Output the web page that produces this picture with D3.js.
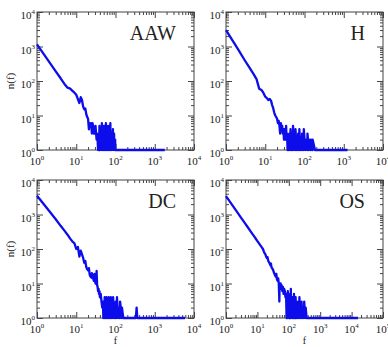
<!DOCTYPE html>
<html>
<head>
<meta charset="utf-8">
<script src="https://cdn.jsdelivr.net/npm/d3@7"></script>
<style>
  body { margin: 0; background: #fff; }
  svg { display: block; }
  text { font-family: "Liberation Serif", "DejaVu Serif", serif; fill: #222; }
</style>
</head>
<body>
<div id="chart"></div>
<script>
// panel titles and x-axis upper limits (decades)
const titles = ["AAW", "H", "DC", "OS"];
const xMaxExp = [4, 4, 4, 5];
const yMaxExp = 4;

// AAW
const aawF = [1,2,3,4,5,6,7,8,9,10,11,12,13,14,15,16,17,18,19,20,21,22,23,24,25,26,27,28,29,30,31,32,33,34,35,36,37,38,39,40,42,43,45,46,48,49,51,52,54,55,57,58,61,62,65,66,69,70,74,75,79,80,86,87,92,93,98,99,1800];
const aawN = [1150,370,190,120,82,64,60,52,46,40,30,23,34,28,18,15,16,11,9,8,4,6,5,6,3,6,5,3,4,3,5,3,2,3,2,1,3,1,5,1,4,1,6,1,2,1,5,1,3,1,6,1,2,1,5,1,3,1,6,1,2,1,4,1,3,1,2,1,1];

// H
const hF = [1,2,3,4,5,6,7,8,9,10,11,12,13,14,15,16,17,18,19,20,21,22,23,24,25,26,27,28,29,30,31,32,33,34,35,36,37,38,39,40,41,43,44,46,47,50,51,54,55,58,59,63,64,68,69,73,74,79,80,86,87,95,96,105,106,118,119,130,131,145,146,160,161,185,1250];
const hN = [3000,850,400,240,160,113,60,55,45,35,32,28,30,27,20,16,12,10,9,8,6,7,5,3,6,4,5,3,4,2,4,3,2,5,2,3,1,2,1,1,3,1,4,1,2,1,5,1,3,1,4,1,2,1,3,1,4,1,2,1,3,1,4,1,2,1,3,1,2,1,2,1,2,1,1];

// DC
const dcF = [1,2,3,4,5,6,7,8,9,10,11,12,13,14,15,16,17,18,19,20,21,22,23,24,25,26,27,28,29,30,31,32,33,34,35,36,37,38,39,40,42,44,46,48,49,50,52,53,55,56,58,59,62,63,66,67,70,71,75,76,80,81,86,87,92,93,100,101,108,109,118,119,130,131,145,146,158,330,345,360,5900];
const dcN = [3500,1300,730,470,340,260,200,165,145,100,115,60,90,70,55,40,45,30,26,24,28,18,16,15,20,14,17,12,19,13,10,12,23,9,8,6,7,5,6,4,5,3,2,3,1,3,1,4,1,2,1,4,1,3,1,4,1,2,1,4,1,3,1,4,1,2,1,3,1,4,1,2,1,3,1,2,1,1,2,1,1];

// OS
const osF = [1,2,3,4,5,6,7,8,9,10,12,14,15,16,17,18,19,20,21,22,24,26,27,28,30,32,34,36,38,40,42,44,46,48,50,51,53,55,57,59,62,65,68,71,75,78,82,85,88,90,93,95,98,100,104,106,110,112,116,118,123,125,130,133,138,141,146,150,155,160,165,170,176,182,188,195,202,210,218,226,235,245,255,265,280,295,310,330,345,370,16000];
const osN = [3400,1380,815,560,420,330,270,228,195,170,134,110,100,85,75,70,60,55,58,46,40,34,38,30,27,24,20,18,16,19,13,12,14,10,3,9,8,10,7,9,6,8,5,7,6,4,5,1,4,1,6,2,5,1,3,1,4,1,7,1,3,2,4,1,3,1,5,1,2,1,4,1,3,1,2,1,3,1,4,1,2,1,3,1,2,1,3,1,2,1,1];

const seriesF = [aawF, hF, dcF, osF];
const seriesN = [aawN, hN, dcN, osN];

const width = 388, height = 347;
const colX = [37, 226], rowY = [12, 180];
const pw = 157, ph = 138;
const axisColor = "#444";
const lineColor = "#0d0deb";

const svg = d3.select("#chart").append("svg")
  .attr("width", width)
  .attr("height", height);

function minorTicks(maxExp) {
  const out = [];
  for (let e = 0; e < maxExp; e++)
    for (let k = 2; k <= 9; k++) out.push(k * Math.pow(10, e));
  return out;
}

function drawTicks(g, axisFn, values, size, transform) {
  g.append("g")
    .attr("transform", transform)
    .call(axisFn.tickValues(values).tickSize(-size).tickSizeOuter(0).tickFormat(""))
    .call(a => a.select(".domain").remove())
    .call(a => a.selectAll("line").attr("stroke", axisColor).attr("stroke-width", 1));
}

function powLabel(sel, d) {
  sel.append("tspan").text("10");
  sel.append("tspan").attr("dy", -5).attr("font-size", 7).text(Math.round(Math.log10(d)));
}

titles.forEach((title, i) => {
  const col = i % 2, row = Math.floor(i / 2);
  const g = svg.append("g").attr("transform", `translate(${colX[col]},${rowY[row]})`);

  const x = d3.scaleLog().domain([1, Math.pow(10, xMaxExp[i])]).range([0, pw]);
  const y = d3.scaleLog().domain([1, Math.pow(10, yMaxExp)]).range([ph, 0]);

  const xMajor = d3.range(0, xMaxExp[i] + 1).map(e => Math.pow(10, e));
  const yMajor = d3.range(0, yMaxExp + 1).map(e => Math.pow(10, e));
  const xMinor = minorTicks(xMaxExp[i]);
  const yMinor = minorTicks(yMaxExp);

  // frame
  g.append("rect")
    .attr("width", pw).attr("height", ph)
    .attr("fill", "none").attr("stroke", axisColor).attr("stroke-width", 1);

  // inward ticks on all four sides
  drawTicks(g, d3.axisBottom(x), xMajor, 6, `translate(0,${ph})`);
  drawTicks(g, d3.axisBottom(x), xMinor, 3, `translate(0,${ph})`);
  drawTicks(g, d3.axisTop(x), xMajor, 6, "translate(0,0)");
  drawTicks(g, d3.axisTop(x), xMinor, 3, "translate(0,0)");
  drawTicks(g, d3.axisLeft(y), yMajor, 6, "translate(0,0)");
  drawTicks(g, d3.axisLeft(y), yMinor, 3, "translate(0,0)");
  drawTicks(g, d3.axisRight(y), yMajor, 6, `translate(${pw},0)`);
  drawTicks(g, d3.axisRight(y), yMinor, 3, `translate(${pw},0)`);

  // tick labels
  g.selectAll(".xl").data(xMajor).join("text")
    .attr("class", "xl")
    .attr("x", d => x(d))
    .attr("y", ph + 15)
    .attr("text-anchor", "middle")
    .attr("font-size", 11)
    .each(function(d) { powLabel(d3.select(this), d); });

  g.selectAll(".yl").data(yMajor).join("text")
    .attr("class", "yl")
    .attr("x", -2)
    .attr("y", d => y(d) + 7)
    .attr("text-anchor", "end")
    .attr("font-size", 11)
    .each(function(d) { powLabel(d3.select(this), d); });

  // data line
  const line = d3.line()
    .x(d => x(d[0]))
    .y(d => y(d[1]));

  g.append("path")
    .datum(d3.zip(seriesF[i], seriesN[i]))
    .attr("d", line)
    .attr("fill", "none")
    .attr("stroke", lineColor)
    .attr("stroke-width", 2.3)
    .attr("stroke-linejoin", "round");

  // panel title
  g.append("text")
    .attr("x", pw - 18)
    .attr("y", 28)
    .attr("text-anchor", "end")
    .attr("font-size", 20)
    .text(title);

  // axis titles
  if (col === 0) {
    g.append("text")
      .attr("transform", `translate(${-23},${ph / 2}) rotate(-90)`)
      .attr("text-anchor", "middle")
      .attr("font-size", 11)
      .text("n(f)");
  }
  if (row === 1) {
    g.append("text")
      .attr("x", pw / 2)
      .attr("y", ph + 26)
      .attr("text-anchor", "middle")
      .attr("font-size", 10)
      .text("f");
  }
});
</script>
</body>
</html>
